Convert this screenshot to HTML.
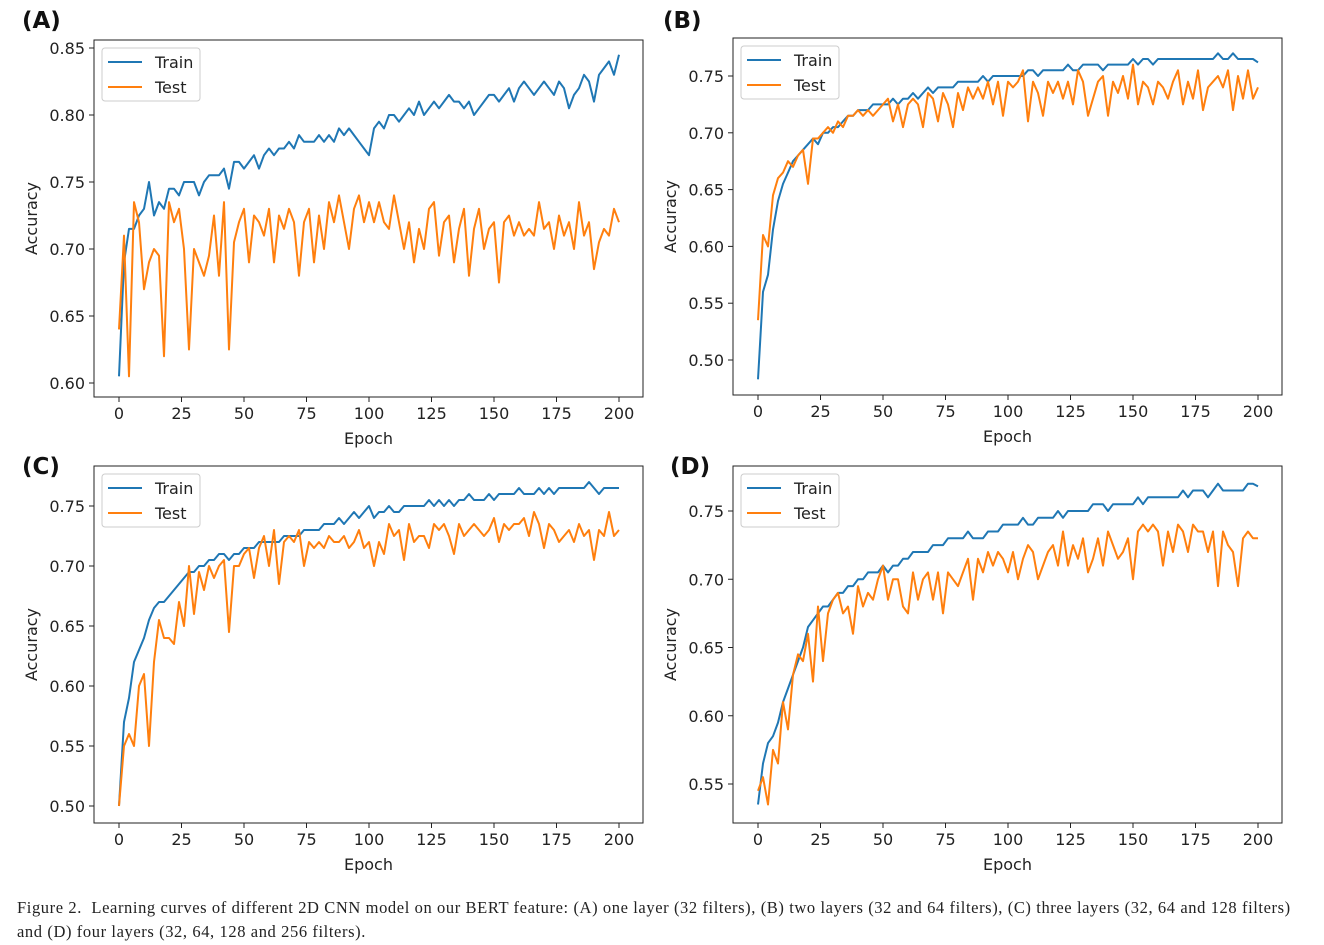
<!DOCTYPE html>
<html><head><meta charset="utf-8"><style>
body{margin:0;background:#fff;width:1324px;height:945px;overflow:hidden;font-family:"DejaVu Sans","Liberation Sans",sans-serif}
#cap{position:absolute;left:17px;top:896px;width:1300px;font-family:"Liberation Serif",serif;font-size:16.5px;letter-spacing:0.6px;line-height:24px;color:#222;white-space:nowrap}
</style></head><body>
<svg id="fig" width="1324" height="890" style="position:absolute;left:0;top:0"></svg>
<div id="cap">Figure 2.&nbsp; Learning curves of different 2D CNN model on our BERT feature: (A) one layer (32 filters), (B) two layers (32 and 64 filters), (C) three layers (32, 64 and 128 filters)<br>and (D) four layers (32, 64, 128 and 256 filters).</div>
<script>
const epochs=[];for(let e=0;e<=200;e+=2)epochs.push(e);
const xTicks=[0,25,50,75,100,125,150,175,200];
const aTrain=[0.605,0.69,0.715,0.715,0.725,0.73,0.75,0.725,0.735,0.73,0.745,0.745,0.74,0.75,0.75,0.75,0.74,0.75,0.755,0.755,0.755,0.76,0.745,0.765,0.765,0.76,0.765,0.77,0.76,0.77,0.775,0.77,0.775,0.775,0.78,0.775,0.785,0.78,0.78,0.78,0.785,0.78,0.785,0.78,0.79,0.785,0.79,0.785,0.78,0.775,0.77,0.79,0.795,0.79,0.8,0.8,0.795,0.8,0.805,0.8,0.81,0.8,0.805,0.81,0.805,0.81,0.815,0.81,0.81,0.805,0.81,0.8,0.805,0.81,0.815,0.815,0.81,0.815,0.82,0.81,0.82,0.825,0.82,0.815,0.82,0.825,0.82,0.815,0.825,0.82,0.805,0.815,0.82,0.83,0.825,0.81,0.83,0.835,0.84,0.83,0.845];
const aTest=[0.64,0.71,0.605,0.735,0.72,0.67,0.69,0.70,0.695,0.62,0.735,0.72,0.73,0.70,0.625,0.70,0.69,0.68,0.695,0.725,0.68,0.735,0.625,0.705,0.72,0.73,0.69,0.725,0.72,0.71,0.73,0.69,0.725,0.715,0.73,0.72,0.68,0.72,0.73,0.69,0.725,0.70,0.735,0.72,0.74,0.72,0.70,0.73,0.74,0.72,0.735,0.72,0.735,0.72,0.715,0.74,0.72,0.70,0.72,0.69,0.715,0.70,0.73,0.735,0.695,0.72,0.725,0.69,0.715,0.73,0.68,0.715,0.73,0.70,0.715,0.72,0.675,0.72,0.725,0.71,0.72,0.71,0.715,0.71,0.735,0.715,0.72,0.70,0.725,0.71,0.72,0.70,0.735,0.71,0.72,0.685,0.705,0.715,0.71,0.73,0.72];
const bTrain=[0.483,0.56,0.575,0.615,0.64,0.655,0.665,0.675,0.68,0.685,0.69,0.695,0.69,0.70,0.70,0.705,0.705,0.71,0.715,0.715,0.72,0.72,0.72,0.725,0.725,0.725,0.725,0.73,0.725,0.73,0.73,0.735,0.73,0.735,0.74,0.735,0.74,0.74,0.74,0.74,0.745,0.745,0.745,0.745,0.745,0.75,0.745,0.75,0.75,0.75,0.75,0.75,0.75,0.75,0.755,0.755,0.75,0.755,0.755,0.755,0.755,0.755,0.76,0.755,0.755,0.76,0.76,0.76,0.76,0.755,0.76,0.76,0.76,0.76,0.76,0.765,0.76,0.765,0.765,0.76,0.765,0.765,0.765,0.765,0.765,0.765,0.765,0.765,0.765,0.765,0.765,0.765,0.77,0.765,0.765,0.77,0.765,0.765,0.765,0.765,0.762];
const bTest=[0.535,0.61,0.60,0.645,0.66,0.665,0.675,0.67,0.68,0.685,0.655,0.695,0.695,0.70,0.705,0.70,0.71,0.705,0.715,0.715,0.72,0.715,0.72,0.715,0.72,0.725,0.73,0.71,0.725,0.705,0.725,0.73,0.725,0.705,0.735,0.73,0.71,0.735,0.725,0.705,0.735,0.72,0.74,0.73,0.74,0.73,0.745,0.725,0.745,0.715,0.745,0.74,0.745,0.755,0.71,0.745,0.735,0.715,0.745,0.735,0.745,0.73,0.745,0.725,0.755,0.745,0.715,0.73,0.745,0.75,0.715,0.745,0.735,0.75,0.73,0.76,0.725,0.745,0.74,0.725,0.745,0.74,0.73,0.745,0.755,0.725,0.745,0.73,0.755,0.72,0.74,0.745,0.75,0.74,0.755,0.72,0.75,0.73,0.755,0.73,0.74];
const cTrain=[0.50,0.57,0.59,0.62,0.63,0.64,0.655,0.665,0.67,0.67,0.675,0.68,0.685,0.69,0.695,0.695,0.70,0.70,0.705,0.705,0.71,0.71,0.705,0.71,0.71,0.715,0.715,0.715,0.72,0.72,0.72,0.72,0.72,0.725,0.725,0.725,0.725,0.73,0.73,0.73,0.73,0.735,0.735,0.735,0.74,0.735,0.74,0.745,0.74,0.745,0.75,0.74,0.745,0.745,0.75,0.745,0.745,0.75,0.75,0.75,0.75,0.75,0.755,0.75,0.755,0.75,0.755,0.75,0.755,0.755,0.76,0.755,0.755,0.755,0.76,0.755,0.76,0.76,0.76,0.76,0.765,0.76,0.76,0.76,0.765,0.76,0.765,0.76,0.765,0.765,0.765,0.765,0.765,0.765,0.77,0.765,0.76,0.765,0.765,0.765,0.765];
const cTest=[0.50,0.55,0.56,0.55,0.60,0.61,0.55,0.62,0.655,0.64,0.64,0.635,0.67,0.65,0.70,0.66,0.695,0.68,0.70,0.69,0.70,0.705,0.645,0.70,0.70,0.71,0.715,0.69,0.715,0.725,0.70,0.73,0.685,0.72,0.725,0.72,0.73,0.70,0.72,0.715,0.72,0.715,0.725,0.72,0.72,0.725,0.715,0.72,0.73,0.715,0.72,0.70,0.72,0.71,0.735,0.725,0.73,0.705,0.735,0.72,0.725,0.725,0.715,0.735,0.73,0.735,0.725,0.71,0.735,0.725,0.73,0.735,0.73,0.725,0.73,0.74,0.72,0.735,0.73,0.735,0.735,0.74,0.725,0.745,0.735,0.715,0.735,0.73,0.72,0.725,0.73,0.72,0.735,0.725,0.73,0.705,0.73,0.725,0.745,0.725,0.73];
const dTrain=[0.535,0.565,0.58,0.585,0.595,0.61,0.62,0.63,0.64,0.65,0.665,0.67,0.675,0.68,0.68,0.685,0.69,0.69,0.695,0.695,0.70,0.70,0.705,0.705,0.705,0.71,0.705,0.71,0.71,0.715,0.715,0.72,0.72,0.72,0.72,0.725,0.725,0.725,0.73,0.73,0.73,0.73,0.735,0.73,0.73,0.73,0.735,0.735,0.735,0.74,0.74,0.74,0.74,0.745,0.74,0.74,0.745,0.745,0.745,0.745,0.75,0.745,0.75,0.75,0.75,0.75,0.75,0.755,0.755,0.755,0.75,0.755,0.755,0.755,0.755,0.755,0.76,0.755,0.76,0.76,0.76,0.76,0.76,0.76,0.76,0.765,0.76,0.765,0.765,0.765,0.76,0.765,0.77,0.765,0.765,0.765,0.765,0.765,0.77,0.77,0.768];
const dTest=[0.545,0.555,0.535,0.575,0.565,0.61,0.59,0.63,0.645,0.64,0.66,0.625,0.68,0.64,0.675,0.685,0.69,0.675,0.68,0.66,0.695,0.68,0.69,0.685,0.70,0.71,0.685,0.70,0.70,0.68,0.675,0.705,0.685,0.70,0.705,0.685,0.705,0.675,0.705,0.70,0.695,0.705,0.715,0.685,0.715,0.705,0.72,0.71,0.72,0.715,0.705,0.72,0.70,0.715,0.725,0.72,0.70,0.71,0.72,0.725,0.71,0.735,0.71,0.725,0.715,0.73,0.705,0.715,0.73,0.71,0.735,0.725,0.715,0.72,0.73,0.70,0.735,0.74,0.735,0.74,0.735,0.71,0.735,0.72,0.74,0.735,0.72,0.74,0.735,0.735,0.72,0.735,0.695,0.735,0.725,0.72,0.695,0.73,0.735,0.73,0.73];
const aTicks=[0.60,0.65,0.70,0.75,0.80,0.85];
const bTicks=[0.50,0.55,0.60,0.65,0.70,0.75];
const cTicks=[0.50,0.55,0.60,0.65,0.70,0.75];
const dTicks=[0.55,0.60,0.65,0.70,0.75];

const NS='http://www.w3.org/2000/svg';
const svg=document.getElementById('fig');
function mk(tag,attrs,parent){const el=document.createElementNS(NS,tag);for(const k in attrs)el.setAttribute(k,attrs[k]);(parent||svg).appendChild(el);return el;}
function panel(id,label,lx,ly,box,x0,x200,yRef,yRefPix,pxPer05,yticks,train,test){
  const g=mk('g',{});
  
  
  const xs=e=>x0+(x200-x0)*e/200;
  const ys=v=>yRefPix+(yRef-v)/0.05*pxPer05;
  const t=mk('text',{x:lx,y:ly,'font-size':23,'font-weight':'bold',fill:'#111'},g);t.textContent=label;
  
  
  const [L,T,R,B]=box;
  const fr=mk('rect',{x:L,y:T,width:R-L,height:B-T,fill:'none',stroke:'#222','stroke-width':1},g);
  
  
  xTicks.forEach(v=>{const x=xs(v);mk('line',{x1:x,x2:x,y1:B,y2:B+5,stroke:'#222'},g);
    const tx=mk('text',{x:x,y:B+22,'font-size':16,'text-anchor':'middle',fill:'#222'},g);tx.textContent=v;
    
    });
  yticks.forEach(v=>{const y=ys(v);mk('line',{x1:L-5,x2:L,y1:y,y2:y,stroke:'#222'},g);
    const ty=mk('text',{x:L-9,y:y+6,'font-size':16,'text-anchor':'end',fill:'#222'},g);ty.textContent=v.toFixed(2);
    
    });
  const xt=mk('text',{x:(L+R)/2,y:B+47,'font-size':16,'text-anchor':'middle',fill:'#222'},g);xt.textContent='Epoch';
  
  
  const cy=(T+B)/2;
  const yt=mk('text',{x:L-57,y:cy,'font-size':16,'text-anchor':'middle',fill:'#222',transform:`rotate(-90 ${L-57} ${cy})`},g);yt.textContent='Accuracy';
  
  
  [[train,'#1f77b4','train'],[test,'#ff7f0e','test']].forEach(([d,c,n])=>{
    const p=mk('polyline',{points:d.map((v,i)=>xs(epochs[i]).toFixed(1)+','+ys(v).toFixed(1)).join(' '),fill:'none',stroke:c,'stroke-width':2,'stroke-linejoin':'round'},g);
    
    
  });
  const lg=mk('g',{},g);
  
  
  mk('rect',{x:L+8,y:T+8,width:98,height:53,rx:3,fill:'#fff','fill-opacity':0.9,stroke:'#ccc'},lg);
  [['Train','#1f77b4',0],['Test','#ff7f0e',25]].forEach(([s,c,o])=>{
    mk('line',{x1:L+14,x2:L+48,y1:T+22+o,y2:T+22+o,stroke:c,'stroke-width':2},lg);
    const tt=mk('text',{x:L+61,y:T+28+o,'font-size':16,fill:'#222'},lg);tt.textContent=s;
    
    
  });
}
panel('a','(A)',22,28,[94,40,643,397],119,619,0.85,48,67,aTicks,aTrain,aTest);
panel('b','(B)',663,28,[733,38,1282,395],758,1258,0.75,76,56.8,bTicks,bTrain,bTest);
panel('c','(C)',22,474,[94,466,643,823],119,619,0.75,506,60,cTicks,cTrain,cTest);
panel('d','(D)',670,474,[733,466,1282,823],758,1258,0.75,511,68.25,dTicks,dTrain,dTest);
</script>
</body></html>
